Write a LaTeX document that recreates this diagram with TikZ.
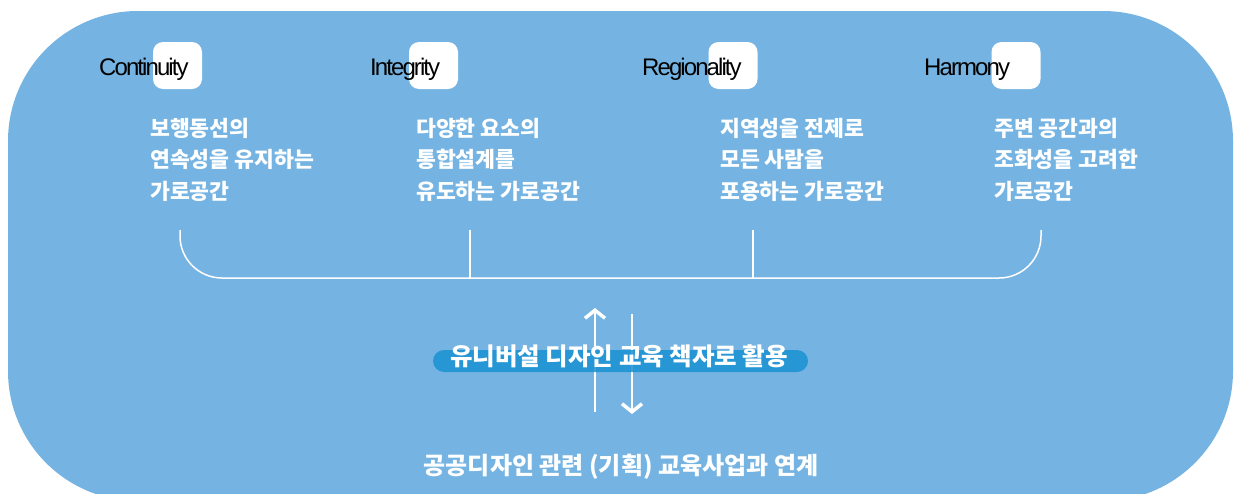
\documentclass[tikz,border=0pt]{standalone}
\usepackage{fontspec}
\setmainfont{Liberation Sans}
\newfontfamily\kr{Noto Sans CJK KR}
\newfontfamily\en[LetterSpace=-8]{Liberation Sans}
\usetikzlibrary{arrows.meta}
\definecolor{bgblue}{RGB}{117,180,226}
\definecolor{pillblue}{RGB}{26,145,210}
\begin{document}
\begin{tikzpicture}[x=1pt,y=-1pt,
  sq/.style={fill=white, rounded corners=10pt, minimum width=49pt, minimum height=47pt, inner sep=0pt},
  lab/.style={font=\en\fontsize{24pt}{26pt}\selectfont, text=black, inner sep=0pt, anchor=base west},
  col/.style={font=\kr\bfseries\fontsize{21.6pt}{31.5pt}\selectfont, text=white, align=left, inner sep=0pt, anchor=base west},
  brk/.style={draw=white, line width=1.5pt},
  arr/.style={draw=white, line width=2pt, -{Straight Barb[length=8pt,width=20pt,line width=3.5pt]}},
  pill/.style={fill=pillblue, fill opacity=0.85, rounded corners=11pt, minimum width=375pt, minimum height=22pt, inner sep=0pt},
  big/.style={font=\kr\bfseries\fontsize{24.5pt}{28pt}\selectfont, text=white, inner sep=0pt}
]
\useasboundingbox (0,0) rectangle (1235,493);
\clip (0,0) rectangle (1235,493);
\fill[white] (0,0) rectangle (1235,493);
\fill[bgblue, rounded corners=130pt] (8,11) rectangle (1233,501);

% squares and labels
\node[sq] (s1) at (177.5,65.5) {};
\node[sq] (s2) at (433.5,65.5) {};
\node[sq] (s3) at (733,65.5) {};
\node[sq] (s4) at (1016,65.5) {};
\node[lab] (l1) at (99,75) {Continuity};
\node[lab] (l2) at (370,75) {Integrity};
\node[lab] (l3) at (642,75) {Regionality};
\node[lab] (l4) at (924,75) {Harmony};

% columns (base anchor = last line baseline)
\node[col] (c1) at (150,199) {보행동선의\\연속성을 유지하는\\가로공간};
\node[col] (c2) at (416,199) {다양한 요소의\\통합설계를\\유도하는 가로공간};
\node[col] (c3) at (720,199) {지역성을 전제로\\모든 사람을\\포용하는 가로공간};
\node[col] (c4) at (994,199) {주변 공간과의\\조화성을 고려한\\가로공간};

% bracket
\coordinate (b1) at (180,230);
\coordinate (b1c) at (180,278);
\coordinate (b2c) at (1041,278);
\coordinate (b2) at (1041,230);
\coordinate (t1) at (470,230);
\coordinate (t1b) at (470,278);
\coordinate (t2) at (753,230);
\coordinate (t2b) at (753,278);
\draw[brk, rounded corners=42pt] (b1) -- (b1c) -- (b2c) -- (b2);
\draw[brk] (t1) -- (t1b);
\draw[brk] (t2) -- (t2b);

% arrows
\coordinate (ua) at (595,412);
\coordinate (ub) at (595,308);
\coordinate (da) at (632,314);
\coordinate (db) at (632,414);
\draw[arr] (ua) -- (ub);
\draw[arr] (da) -- (db);

% pill
\node[pill] (p) at (620.5,361) {};
\node[big] (pt) at (619,356) {유니버설 디자인 교육 책자로 활용};

% bottom text
\node[big, font=\kr\bfseries\fontsize{24pt}{28pt}\selectfont] (bt) at (621,467) {공공디자인 관련 (기획) 교육사업과 연계};
\end{tikzpicture}
\end{document}
